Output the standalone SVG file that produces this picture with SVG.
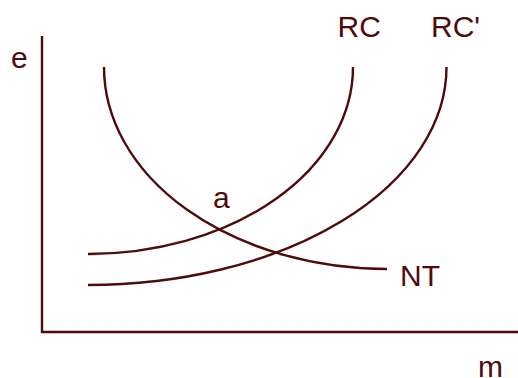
<svg xmlns="http://www.w3.org/2000/svg" width="518" height="378" viewBox="0 0 518 378">
<style>
.ln{fill:none;stroke:#500a0a;stroke-width:2.4}
.lb{font-family:"Liberation Sans",Arial,sans-serif;font-size:30px;fill:#500a0a}
</style>
<rect width="518" height="378" fill="#fff"/>
<g id="axes">
<path class="ln" d="M42,36 V332 H518"/>
</g>
<g id="connectors">
<path id="NT-curve" class="ln" d="M104,67 A284,202 0 0 0 387,269"/>
<path id="RC-curve" class="ln" d="M88,254 A265,187 0 0 0 353,67"/>
<path id="RCp-curve" class="ln" d="M88,285 A358,218 0 0 0 446.5,67"/>
</g>
<g id="label-e"><text class="lb" x="11" y="68">e</text></g>
<g id="label-m"><text class="lb" x="478" y="377">m</text></g>
<g id="label-RC"><text class="lb" x="337.5" y="36.5">RC</text></g>
<g id="label-RCp"><text class="lb" x="431" y="36.5">RC'</text></g>
<g id="label-a"><text class="lb" x="213" y="208">a</text></g>
<g id="label-NT"><text class="lb" x="400" y="285.5">NT</text></g>
</svg>
